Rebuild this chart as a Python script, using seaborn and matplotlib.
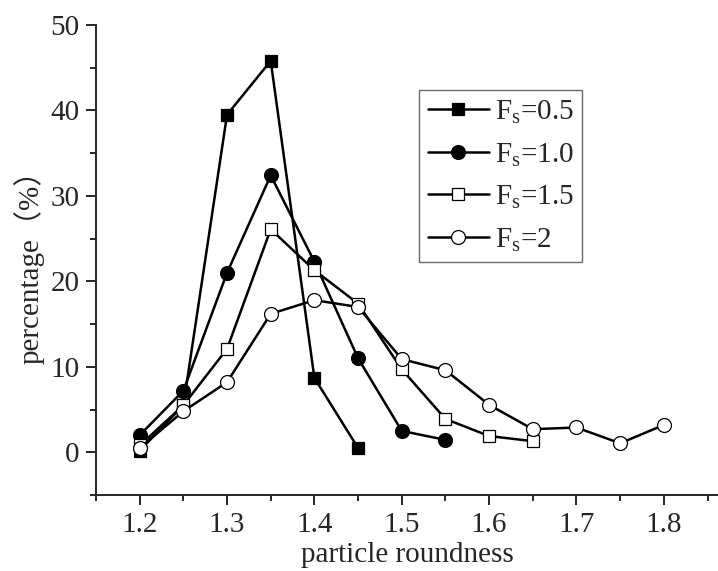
import matplotlib
matplotlib.use('Agg')
import matplotlib.pyplot as plt
import seaborn as sns
import pandas as pd
from matplotlib.ticker import MultipleLocator

# data
x_05 = [1.2, 1.25, 1.3, 1.35, 1.4, 1.45]
y_05 = [0.2, 5.5, 39.5, 45.8, 8.7, 0.5]
x_10 = [1.2, 1.25, 1.3, 1.35, 1.4, 1.45, 1.5, 1.55]
y_10 = [2.0, 7.2, 21.0, 32.4, 22.3, 11.0, 2.5, 1.45]
x_15 = [1.2, 1.25, 1.3, 1.35, 1.4, 1.45, 1.5, 1.55, 1.6, 1.65]
y_15 = [0.8, 5.5, 12.1, 26.1, 21.3, 17.4, 9.7, 3.9, 1.9, 1.3]
x_20 = [1.2, 1.25, 1.3, 1.35, 1.4, 1.45, 1.5, 1.55, 1.6, 1.65, 1.7, 1.75, 1.8]
y_20 = [0.5, 4.8, 8.2, 16.2, 17.8, 17.0, 10.9, 9.6, 5.55, 2.7, 2.9, 1.05, 3.2]
labels = ['F$_{\\mathregular{s}}$=0.5', 'F$_{\\mathregular{s}}$=1.0',
          'F$_{\\mathregular{s}}$=1.5', 'F$_{\\mathregular{s}}$=2']

sns.set_style('ticks')
plt.rcParams['font.family'] = ['Liberation Serif', 'Noto Sans CJK SC']
plt.rcParams['mathtext.fontset'] = 'custom'
plt.rcParams['mathtext.rm'] = 'Liberation Serif'

frames = []
for xs, ys, lab in zip([x_05, x_10, x_15, x_20], [y_05, y_10, y_15, y_20], labels):
    frames.append(pd.DataFrame({'roundness': xs, 'percentage': ys, 'Fs': lab}))
data = pd.concat(frames, ignore_index=True)

styles = {
    labels[0]: dict(marker='s', markerfacecolor='black', markersize=8),
    labels[1]: dict(marker='o', markerfacecolor='black', markersize=10),
    labels[2]: dict(marker='s', markerfacecolor='white', markersize=8),
    labels[3]: dict(marker='o', markerfacecolor='white', markersize=10),
}

fig = plt.figure(figsize=(7.18, 5.71), dpi=100)
ax = fig.add_axes([96 / 718, 76 / 571, 622 / 718, 470 / 571])

for lab in labels:
    sub = data[data['Fs'] == lab]
    sns.lineplot(x='roundness', y='percentage', data=sub, ax=ax, color='black',
                 linewidth=1.8, markeredgecolor='black', markeredgewidth=0.9,
                 label=lab, **styles[lab])

ax.set_xlim(1.15, 1.862)
ax.set_ylim(-5, 50)
ax.xaxis.set_major_locator(MultipleLocator(0.1))
ax.xaxis.set_minor_locator(MultipleLocator(0.05))
ax.yaxis.set_major_locator(MultipleLocator(10))
ax.yaxis.set_minor_locator(MultipleLocator(5))
ax.set_xticks([1.2, 1.3, 1.4, 1.5, 1.6, 1.7, 1.8])
ax.set_yticks([0, 10, 20, 30, 40, 50])
ax.tick_params(which='major', direction='out', length=7, width=1.4, labelsize=21, pad=5)
ax.tick_params(which='minor', direction='out', length=4, width=1.4)
for s in ['top', 'right']:
    ax.spines[s].set_visible(False)
for s in ['left', 'bottom']:
    ax.spines[s].set_linewidth(1.4)

ax.set_xlabel('particle roundness', fontsize=21, labelpad=3)
ax.set_ylabel('percentage（%）', fontsize=21, labelpad=4)

leg = ax.legend(loc='upper left', bbox_to_anchor=(0.519, 0.862), fontsize=21,
                frameon=True, fancybox=False, edgecolor='#444444',
                handlelength=2.1, handletextpad=0.2, labelspacing=0.5,
                borderpad=0.3, borderaxespad=0)
leg.get_frame().set_linewidth(1.0)

fig.savefig('out.png', dpi=100)
